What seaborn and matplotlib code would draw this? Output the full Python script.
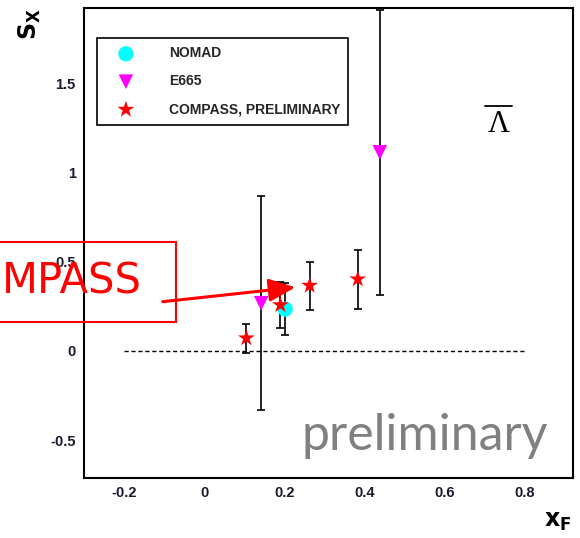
import matplotlib
matplotlib.use("Agg")
import matplotlib.pyplot as plt
import seaborn as sns
import pandas as pd
from matplotlib.patches import Rectangle, FancyArrowPatch
from matplotlib.lines import Line2D

sns.set_theme(style="white")
plt.rcParams['font.family'] = ['Liberation Sans', 'DejaVu Sans']
plt.rcParams['mathtext.fontset'] = 'dejavusans'

# ---- data ----
nomad_x = [0.202]
nomad_y = [0.235]
nomad_err = [0.148]

e665_x = [0.142, 0.438]
e665_y = [0.268, 1.115]
e665_err = [0.60, 0.80]

compass_x = [0.105, 0.190, 0.263, 0.383]
compass_y = [0.072, 0.258, 0.367, 0.403]
compass_err = [0.082, 0.130, 0.135, 0.165]

series_names = ["NOMAD", "E665", "COMPASS, PRELIMINARY"]
x_ticks = [-0.2, 0, 0.2, 0.4, 0.6, 0.8]
x_tick_labels = ["-0.2", "0", "0.2", "0.4", "0.6", "0.8"]
y_ticks = [-0.5, 0, 0.5, 1, 1.5]
y_tick_labels = ["-0.5", "0", "0.5", "1", "1.5"]

df = pd.concat([
    pd.DataFrame({"x": nomad_x, "y": nomad_y, "err": nomad_err, "exp": series_names[0]}),
    pd.DataFrame({"x": e665_x, "y": e665_y, "err": e665_err, "exp": series_names[1]}),
    pd.DataFrame({"x": compass_x, "y": compass_y, "err": compass_err, "exp": series_names[2]}),
], ignore_index=True)

fig = plt.figure(figsize=(5.8, 5.38), dpi=100)
ax = fig.add_axes([84/580, 60/538, 489/580, 470/538])

# error bars
for _, r in df.iterrows():
    ax.errorbar(r["x"], r["y"], yerr=r["err"], fmt="none", ecolor="black",
                elinewidth=1.2, capsize=3, capthick=1.2, zorder=2)

# reference line
ax.plot([-0.2, 0.8], [0, 0], linestyle=(0, (3, 2)), color="black", lw=1.0, zorder=1)

palette = {series_names[0]: "#00ffff", series_names[1]: "#ff00ff", series_names[2]: "#ff0000"}
markers = {series_names[0]: "o", series_names[1]: "v", series_names[2]: "*"}
sizes = {series_names[0]: 120, series_names[1]: 110, series_names[2]: 160}
for name in series_names:
    sub = df[df["exp"] == name]
    sns.scatterplot(data=sub, x="x", y="y", ax=ax, color=palette[name],
                    marker=markers[name], s=sizes[name], edgecolor="none",
                    label=name, zorder=3)

ax.set_xlim(-0.30, 0.92)
ax.set_ylim(-0.713, 1.925)
ax.set_xticks(x_ticks)
ax.set_xticklabels(x_tick_labels)
ax.set_yticks(y_ticks)
ax.set_yticklabels(y_tick_labels)
ax.set_xlabel("")
ax.set_ylabel("")
ax.tick_params(direction="in", length=15, width=1.2, colors="black",
               labelsize=10.5, pad=6)
for lab in ax.get_xticklabels() + ax.get_yticklabels():
    lab.set_fontweight("bold")
    lab.set_color("#1a1a2e")
for sp in ax.spines.values():
    sp.set_linewidth(1.5)
    sp.set_color("black")
    sp.set_visible(True)

leg = ax.legend(loc="upper left", bbox_to_anchor=(0.026, 0.749, 0.514, 0.187),
                mode="expand", borderaxespad=0, frameon=True, fancybox=False,
                edgecolor="black", framealpha=1, handletextpad=1.6,
                labelspacing=1.0, borderpad=0.6, handlelength=3.0,
                prop={"weight": "bold", "size": 10})
leg.get_frame().set_linewidth(1.2)

# Lambda bar label
ax.text(498.5, 538 - 124, "Λ", transform=None, fontsize=22,
        ha="center", va="center", color="black", family=["Liberation Serif", "DejaVu Serif"])
fig.lines.append(Line2D([485/580, 512/580], [1 - 106/538, 1 - 106/538],
                        transform=fig.transFigure, color="black", lw=1.3))

# preliminary
fig.text(425/580, 1 - 436/538, "preliminary", fontsize=36, color="#808080",
         ha="center", va="center", family=["Lato", "DejaVu Sans"])

# axis labels
fig.text(30/580, 1 - 24/538, r"$\mathbf{S_X}$", rotation=90, fontsize=17,
         ha="center", va="center", color="black")
fig.text(558/580, 1 - 522/538, r"$\mathbf{x_F}$", fontsize=17,
         ha="center", va="center", color="black")

# COMPASS callout box
box = Rectangle((-10, 538 - 322), 186, 80, transform=None, fill=False,
                edgecolor="red", lw=1.5, zorder=5)
fig.patches.append(box)
fig.text(2/580, 1 - 282/538, "MPASS", fontsize=30, color="red",
         ha="left", va="center", family=["DejaVu Sans"])
arrow = FancyArrowPatch((160, 538 - 302), (298, 538 - 287), transform=None,
                        arrowstyle="-|>,head_length=8,head_width=3.5",
                        color="red", lw=2.2, mutation_scale=2, zorder=6)
fig.patches.append(arrow)

fig.savefig("out.png", dpi=100)
